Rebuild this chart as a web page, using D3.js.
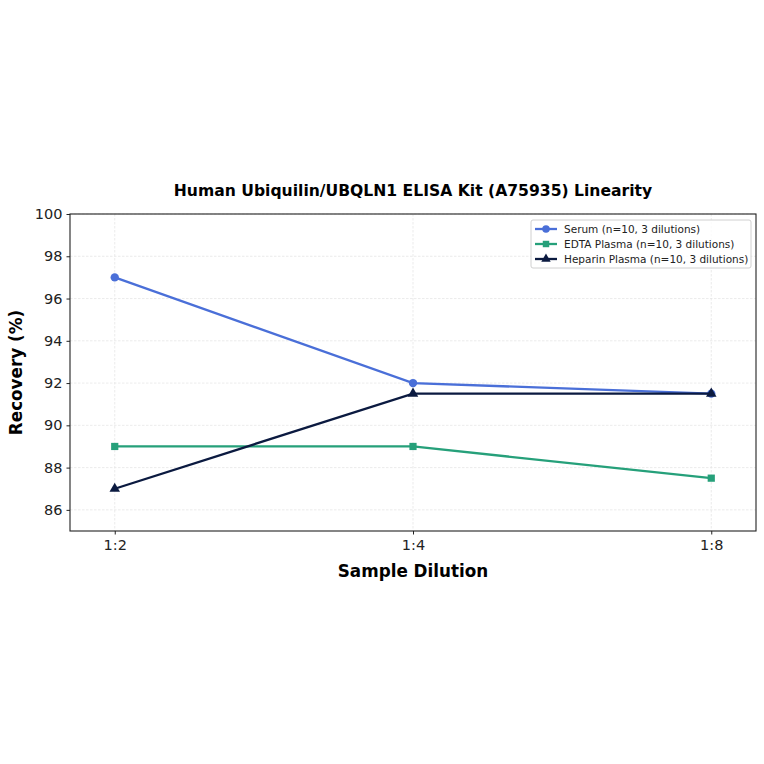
<!DOCTYPE html>
<html><head><meta charset="utf-8">
<script src="https://cdn.jsdelivr.net/npm/d3@7"></script>
<style>body{margin:0;background:#fff}svg{font-family:"DejaVu Sans",sans-serif}</style>
</head><body>
<svg id="c" width="764" height="764"></svg>
<script>
const categories = ["1:2", "1:4", "1:8"];
const serum = [97, 92, 91.5];
const edta = [89, 89, 87.5];
const heparin = [87, 91.5, 91.5];
const yTicks = [86, 88, 90, 92, 94, 96, 98, 100];
const seriesNames = ["Serum (n=10, 3 dilutions)", "EDTA Plasma (n=10, 3 dilutions)", "Heparin Plasma (n=10, 3 dilutions)"];
const colors = ["#4a6fd8", "#26a07a", "#0b1a40"];
const shapes = [d3.symbolCircle, d3.symbolSquare, d3.symbolTriangle];
const markerSizes = [55, 52, 48];

const svg = d3.select("#c");
const L = 70, R = 756, T = 214, B = 531;
const x = d3.scaleLinear().domain([-0.15, 2.15]).range([L, R]);
const y = d3.scaleLinear().domain([85, 100]).range([B, T]);

// grid
const g = svg.append("g");
g.selectAll(".gy").data(yTicks).join("line")
  .attr("x1", L).attr("x2", R).attr("y1", d => y(d)).attr("y2", d => y(d))
  .attr("stroke", "#e6e6e6").attr("stroke-width", 0.8).attr("stroke-dasharray", "2.5,1.5");
g.selectAll(".gx").data(categories).join("line")
  .attr("x1", (d, i) => x(i)).attr("x2", (d, i) => x(i)).attr("y1", T).attr("y2", B)
  .attr("stroke", "#e6e6e6").attr("stroke-width", 0.8).attr("stroke-dasharray", "2.5,1.5");

// axes
const xAxis = d3.axisBottom(x).tickValues([0, 1, 2]).tickFormat(i => categories[i]).tickSizeOuter(0).tickSize(3.5).tickPadding(5);
const yAxis = d3.axisLeft(y).tickValues(yTicks).tickSizeOuter(0).tickSize(3.5).tickPadding(4);
const xa = svg.append("g").attr("transform", `translate(0,${B})`).call(xAxis);
const ya = svg.append("g").attr("transform", `translate(${L},0)`).call(yAxis);
[xa, ya].forEach(a => {
  a.attr("font-size", 14.5).attr("font-family", "DejaVu Sans");
  a.select(".domain").remove();
  a.selectAll("text").attr("font-size", 14.5).attr("fill", "#222");
  a.selectAll("line").attr("stroke", "#222");
});
svg.append("rect").attr("x", L).attr("y", T).attr("width", R - L).attr("height", B - T)
  .attr("fill", "none").attr("stroke", "#222").attr("stroke-width", 1.1);

// series
const data = [serum, edta, heparin];
data.forEach((vals, si) => {
  const line = d3.line().x((d, i) => x(i)).y(d => y(d));
  svg.append("path").datum(vals).attr("d", line).attr("fill", "none")
    .attr("stroke", colors[si]).attr("stroke-width", 2.3);
  svg.selectAll(".m" + si).data(vals).join("path")
    .attr("transform", (d, i) => `translate(${x(i)},${y(d)})`)
    .attr("d", d3.symbol().type(shapes[si]).size(markerSizes[si])).attr("fill", colors[si]);
});

// title and labels
svg.append("text").attr("x", (L + R) / 2).attr("y", 196).attr("text-anchor", "middle")
  .attr("font-size", 15.6).attr("font-weight", "bold").text("Human Ubiquilin/UBQLN1 ELISA Kit (A75935) Linearity");
svg.append("text").attr("x", (L + R) / 2).attr("y", 577).attr("text-anchor", "middle")
  .attr("font-size", 16.8).attr("font-weight", "bold").text("Sample Dilution");
svg.append("text").attr("transform", `translate(22,${(T + B) / 2}) rotate(-90)`).attr("text-anchor", "middle")
  .attr("font-size", 16.8).attr("font-weight", "bold").text("Recovery (%)");

// legend
const lg = svg.append("g");
lg.append("rect").attr("x", 531).attr("y", 220).attr("width", 220).attr("height", 48).attr("rx", 2)
  .attr("fill", "#fff").attr("fill-opacity", 0.8).attr("stroke", "#d0d0d0");
seriesNames.forEach((n, i) => {
  const yy = 229 + i * 15;
  lg.append("line").attr("x1", 535).attr("x2", 557).attr("y1", yy).attr("y2", yy)
    .attr("stroke", colors[i]).attr("stroke-width", 2.3);
  lg.append("path").attr("transform", `translate(546,${yy})`)
    .attr("d", d3.symbol().type(shapes[i]).size(markerSizes[i] * 0.8)).attr("fill", colors[i]);
  lg.append("text").attr("x", 564).attr("y", yy + 4).attr("font-size", 10.5).attr("fill", "#222").text(n);
});
</script>
</body></html>
